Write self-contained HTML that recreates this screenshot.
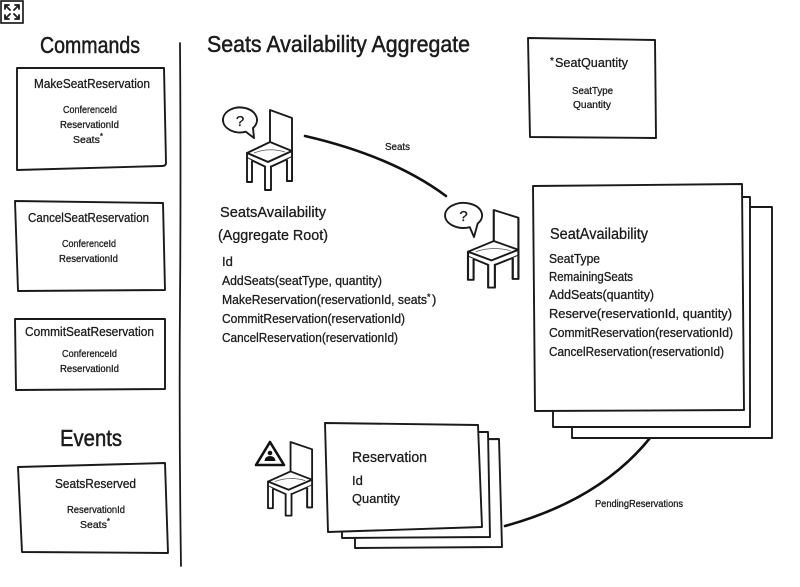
<!DOCTYPE html>
<html>
<head>
<meta charset="utf-8">
<style>
  html,body{margin:0;padding:0;background:#fff;}
  svg{display:block;}
  text{font-family:"Liberation Sans", sans-serif; fill:#1c1c1c; stroke:#1c1c1c; stroke-width:0.3;}
  .ln{fill:none;stroke:#1a1a1a;stroke-width:1.8;stroke-linecap:round;stroke-linejoin:round;}
  .bx{fill:#fff;stroke:#1a1a1a;stroke-width:1.9;stroke-linejoin:round;}
</style>
</head>
<body>
<svg width="800" height="587" viewBox="0 0 800 587" xmlns="http://www.w3.org/2000/svg">
  <rect x="0" y="0" width="800" height="587" fill="#fff"/>

  <defs>
    <g id="chair">
      <path class="bx" d="M23,33 L23,0 L45,8 L45,71 L40,71 L40,47"/>
      <path class="bx" d="M0,43 L23,32 L45,41 L21,52 Z"/>
      <path class="bx" d="M0,43 L0,48 L21,58 L45,47 L45,41 L21,52 Z"/>
      <path class="bx" d="M0,48 L0,72 L5,72 L5,50.5"/>
      <path class="bx" d="M18,56.5 L18,80 L24,80 L24,55.5"/>
      <path class="bx" d="M40,49.5 L40,71 L45,71 L45,47"/>
      <path d="M7,43 Q22,37 38,42" fill="none" stroke="#555" stroke-width="0.8"/>
    </g>
  </defs>

  <!-- top-left expand icon -->
  <rect x="1" y="1" width="22" height="22" fill="#fff" stroke="#111" stroke-width="1.6"/>
  <path class="ln" stroke-width="1.5" d="M5,5 L10,10 M5,5 L5,9 M5,5 L9,5
    M19,5 L14,10 M19,5 L15,5 M19,5 L19,9
    M5,19 L10,14 M5,19 L5,15 M5,19 L9,19
    M19,19 L14,14 M19,19 L19,15 M19,19 L15,19"/>

  <!-- headings -->
  <text x="40" y="53" font-size="23" textLength="100" lengthAdjust="spacingAndGlyphs" style="stroke-width:0.5">Commands</text>
  <text x="60" y="446" font-size="23" textLength="62" lengthAdjust="spacingAndGlyphs" style="stroke-width:0.5">Events</text>
  <text x="207" y="52" font-size="23" textLength="263" lengthAdjust="spacingAndGlyphs" style="stroke-width:0.5">Seats Availability Aggregate</text>

  <!-- divider -->
  <path class="ln" stroke-width="1.6" d="M180,43 Q181,180 180,300 Q179,430 181,566"/>

  <!-- MakeSeatReservation -->
  <path class="bx" d="M17,68 L164,68 L166,163 Q166,166 162,166 L17,170 Z"/>
  <text x="34" y="88" font-size="13" textLength="116" lengthAdjust="spacingAndGlyphs">MakeSeatReservation</text>
  <text x="63" y="113" font-size="10.5" textLength="54" lengthAdjust="spacingAndGlyphs">ConferenceId</text>
  <text x="60" y="128" font-size="10.5" textLength="59" lengthAdjust="spacingAndGlyphs">ReservationId</text>
  <text x="73" y="143" font-size="10.5">Seats<tspan dy="-4" font-size="8">*</tspan></text>

  <!-- CancelSeatReservation -->
  <path class="bx" d="M15,201 L163,203 L165,290 L18,291 Z"/>
  <text x="28" y="222" font-size="13" textLength="121" lengthAdjust="spacingAndGlyphs">CancelSeatReservation</text>
  <text x="62" y="247" font-size="10.5" textLength="54" lengthAdjust="spacingAndGlyphs">ConferenceId</text>
  <text x="59" y="262" font-size="10.5" textLength="59" lengthAdjust="spacingAndGlyphs">ReservationId</text>

  <!-- CommitSeatReservation -->
  <path class="bx" d="M15,319 L165,319 L165,389 L16,390 Z"/>
  <text x="25" y="336" font-size="13" textLength="129" lengthAdjust="spacingAndGlyphs">CommitSeatReservation</text>
  <text x="62" y="357" font-size="10.5" textLength="55" lengthAdjust="spacingAndGlyphs">ConferenceId</text>
  <text x="60" y="372" font-size="10.5" textLength="59" lengthAdjust="spacingAndGlyphs">ReservationId</text>

  <!-- SeatsReserved -->
  <path class="bx" d="M18,467 L165,463 L168,553 L22,552 Z"/>
  <text x="55" y="488" font-size="13" textLength="81" lengthAdjust="spacingAndGlyphs">SeatsReserved</text>
  <text x="67" y="513" font-size="10.5" textLength="58" lengthAdjust="spacingAndGlyphs">ReservationId</text>
  <text x="80" y="528" font-size="10.5">Seats<tspan dy="-4" font-size="8">*</tspan></text>

  <!-- SeatQuantity -->
  <path class="bx" d="M528,38 L655,40 L656,138 L530,137 Z"/>
  <text x="550" y="64" font-size="10">*</text>
  <text x="555" y="67" font-size="13" textLength="73" lengthAdjust="spacingAndGlyphs">SeatQuantity</text>
  <text x="572" y="94" font-size="10.5" textLength="41" lengthAdjust="spacingAndGlyphs">SeatType</text>
  <text x="573" y="108" font-size="10.5" textLength="38" lengthAdjust="spacingAndGlyphs">Quantity</text>

  <!-- connectors -->
  <path d="M305,136 Q392,156 446,196" fill="none" stroke="#111" stroke-width="2.6" stroke-linecap="round"/>
  <text x="385" y="150" font-size="10.5" textLength="25" lengthAdjust="spacingAndGlyphs">Seats</text>
  <path d="M650,438 Q600,500 505,526" fill="none" stroke="#111" stroke-width="2.6" stroke-linecap="round"/>
  <text x="595" y="507" font-size="10.5" textLength="88" lengthAdjust="spacingAndGlyphs">PendingReservations</text>

  <!-- chair 1 -->
  <use href="#chair" transform="translate(247,110)"/>
  <path class="bx" d="M253,128 A17,12.5 0 1,0 245.8,131.7 L254,138 Z"/>
  <text x="240" y="126" font-size="15" text-anchor="middle">?</text>

  <!-- SeatsAvailability aggregate root -->
  <text x="220" y="217" font-size="15" textLength="106" lengthAdjust="spacingAndGlyphs">SeatsAvailability</text>
  <text x="218" y="240" font-size="15" textLength="110" lengthAdjust="spacingAndGlyphs">(Aggregate Root)</text>
  <text x="222" y="266" font-size="13">Id</text>
  <text x="222" y="285" font-size="13" textLength="160" lengthAdjust="spacingAndGlyphs">AddSeats(seatType, quantity)</text>
  <text x="222" y="304" font-size="13" textLength="205" lengthAdjust="spacingAndGlyphs">MakeReservation(reservationId, seats</text>
  <text x="427" y="300" font-size="9">*</text>
  <text x="432" y="304" font-size="13">)</text>
  <text x="222" y="323" font-size="13" textLength="183" lengthAdjust="spacingAndGlyphs">CommitReservation(reservationId)</text>
  <text x="222" y="342" font-size="13" textLength="176" lengthAdjust="spacingAndGlyphs">CancelReservation(reservationId)</text>

  <!-- chair 2 -->
  <use href="#chair" transform="translate(468,210) scale(1.12,0.97)"/>
  <path class="bx" d="M477.7,223.5 A18.5,12.5 0 1,0 469.8,227.2 L474,237 Z"/>
  <text x="463.5" y="221" font-size="15" text-anchor="middle">?</text>

  <!-- SeatAvailability stack -->
  <path class="bx" d="M572,207 L772,207 L772,438 L572,438 Z"/>
  <path class="bx" d="M553,197 L750,197 L750,427 L553,427 Z"/>
  <path class="bx" d="M533,186 L742,184 L744,410 L535,411 Z"/>
  <text x="550" y="239" font-size="16" textLength="98" lengthAdjust="spacingAndGlyphs">SeatAvailability</text>
  <text x="549" y="263" font-size="13" textLength="51" lengthAdjust="spacingAndGlyphs">SeatType</text>
  <text x="549" y="281" font-size="13" textLength="84" lengthAdjust="spacingAndGlyphs">RemainingSeats</text>
  <text x="549" y="299" font-size="13" textLength="105" lengthAdjust="spacingAndGlyphs">AddSeats(quantity)</text>
  <text x="549" y="318" font-size="13" textLength="183" lengthAdjust="spacingAndGlyphs">Reserve(reservationId, quantity)</text>
  <text x="549" y="337" font-size="13" textLength="184" lengthAdjust="spacingAndGlyphs">CommitReservation(reservationId)</text>
  <text x="549" y="356" font-size="13" textLength="175" lengthAdjust="spacingAndGlyphs">CancelReservation(reservationId)</text>

  <!-- chair 3 + warning -->
  <use href="#chair" transform="translate(268,442) scale(0.98,0.92)"/>
  <path d="M256,465 L270,442 L284,465 Z" fill="#fff" stroke="#111" stroke-width="2.6" stroke-linejoin="round"/>
  <circle cx="270" cy="453" r="2.3" fill="#111"/>
  <path d="M264.5,461 Q265,456 270,456 Q275,456 275.5,461 Z" fill="#111"/>

  <!-- Reservation stack -->
  <path class="bx" d="M355,440 L499,439 L502,547 L355,548 Z"/>
  <path class="bx" d="M342,432 L488,432 L490,537 L342,538 Z"/>
  <path class="bx" d="M325,423 L478,425 L482,527 L328,532 Z"/>
  <text x="352" y="462" font-size="15" textLength="75" lengthAdjust="spacingAndGlyphs">Reservation</text>
  <text x="352" y="485" font-size="13">Id</text>
  <text x="352" y="503" font-size="13" textLength="48" lengthAdjust="spacingAndGlyphs">Quantity</text>
</svg>
</body>
</html>
